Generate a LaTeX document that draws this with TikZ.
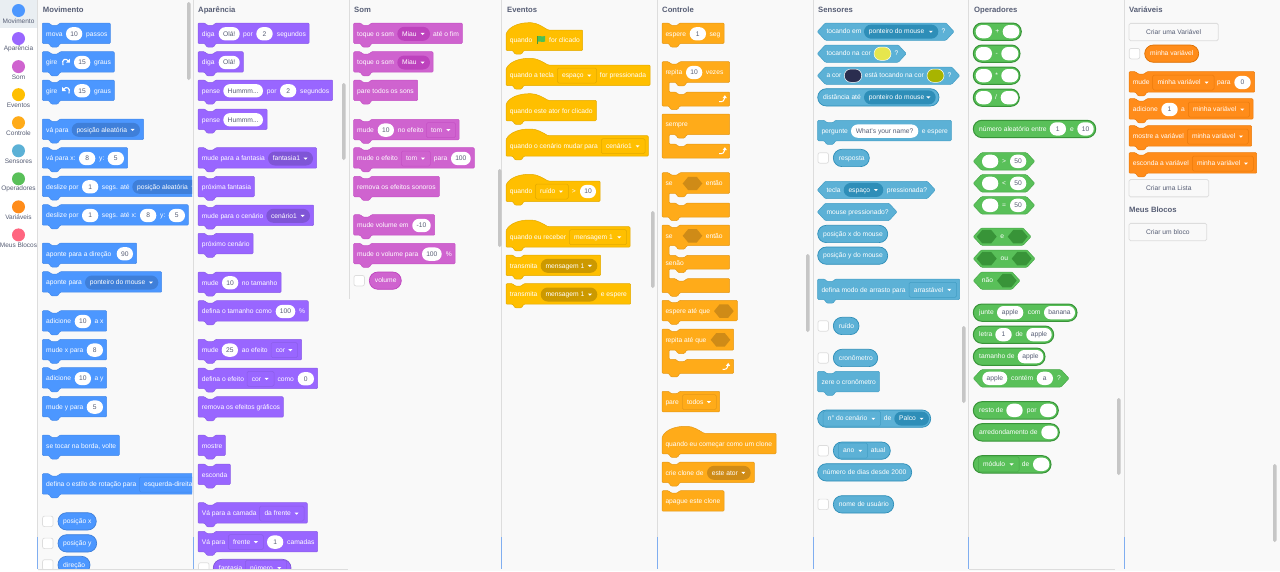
\documentclass[tikz,border=0pt]{standalone}
\usepackage{fontspec}
\setmainfont{Liberation Sans}
\usetikzlibrary{calc}

\definecolor{panelbg}{HTML}{F9F9F9}
\definecolor{selbg}{HTML}{E9EEF2}
\definecolor{rulegrey}{HTML}{DDDDDD}
\definecolor{barblue}{HTML}{80AEF0}
\definecolor{scrollgrey}{HTML}{C6C6C6}
\definecolor{textgrey}{HTML}{575E75}
\definecolor{flaggreen}{HTML}{4CBF56}
\definecolor{flagpole}{HTML}{45993D}
\definecolor{swatchyellow}{HTML}{E6E64D}
\definecolor{swatchnavy}{HTML}{2A2D4F}
\definecolor{swatcholive}{HTML}{A8B400}
\definecolor{motfill}{HTML}{4C97FF}\definecolor{motline}{HTML}{3F7FD9}
\definecolor{loofill}{HTML}{9966FF}\definecolor{looline}{HTML}{7F55D6}
\definecolor{sonfill}{HTML}{CF63CF}\definecolor{sonline}{HTML}{BD42BD}
\definecolor{evefill}{HTML}{FFBF00}\definecolor{eveline}{HTML}{CC9900}
\definecolor{ctlfill}{HTML}{FFAB19}\definecolor{ctlline}{HTML}{CF8B17}
\definecolor{senfill}{HTML}{5CB1D6}\definecolor{senline}{HTML}{2E8EB8}
\definecolor{opefill}{HTML}{59C059}\definecolor{opeline}{HTML}{389438}
\definecolor{varfill}{HTML}{FF8C1A}\definecolor{varline}{HTML}{DB6E00}
\definecolor{mybfill}{HTML}{FF6680}

\newcommand{\blkfont}{\fontsize{6.7}{8}\selectfont}
\newcommand{\usecat}[1]{\colorlet{catfill}{#1fill}\colorlet{catline}{#1line}\colorlet{catedge}{#1line!55!#1fill}}
\newcounter{lbl}

\tikzset{
  blockbody/.style={fill=catfill,draw=catedge,line width=.5pt,rounded corners=1pt},
  repline/.style={line width=.7pt},
  blktext/.style={anchor=base west,inner sep=0pt,text=white,font=\blkfont},
  blkmid/.style={anchor=base,inner sep=0pt,text=white,font=\blkfont},
  pillbox/.style={fill=white,rounded corners=6.6pt,inner sep=0pt,minimum height=13.3pt,text=textgrey,font=\blkfont,text height=6pt,text depth=1.4pt},
  ddbox/.style={fill=catline,rounded corners=7pt,inner sep=0pt,minimum height=14pt},
  menubox/.style={fill=catfill,draw=catedge,line width=.5pt,rounded corners=1.5pt,inner sep=0pt,minimum height=15pt},
  checkbox/.style={fill=white,draw=rulegrey,line width=.7pt,rounded corners=2pt,inner sep=0pt,minimum size=10.5pt},
  catdot/.style={circle,inner sep=0pt,minimum size=13pt},
  catlabel/.style={inner sep=0pt,text=textgrey,font=\fontsize{6.5}{8}\selectfont},
  cattitle/.style={anchor=base west,inner sep=0pt,text=textgrey,font=\fontsize{7.7}{9}\selectfont\bfseries},
  btnbox/.style={fill=panelbg,draw=rulegrey,line width=.8pt,rounded corners=1.5pt,inner sep=0pt,minimum height=17.3pt,text=textgrey,font=\blkfont},
  scrollbar/.style={fill=scrollgrey,rounded corners=1.7pt},
}

% block outlines, pieces of a path
\newcommand{\notchtop}[2]{(#1,#2) -- (#1+6.7,#2) -- (#1+9,#2+2.3) -- (#1+15.5,#2+2.3) -- (#1+17.7,#2)}
\newcommand{\tabbot}[2]{-- (#1+17.7,#2) -- (#1+15.5,#2+3.6) -- (#1+9,#2+3.6) -- (#1+6.7,#2) -- (#1,#2)}
\newcommand{\armpath}[4]{-- (#4,#2) -- (#1+24.7,#2) -- (#1+22.5,#2+3.5) -- (#1+16,#2+3.5) -- (#1+13.7,#2) -- (#1+7,#2) -- (#1+7,#3) -- (#1+13.7,#3) -- (#1+16,#3+2.3) -- (#1+22.5,#3+2.3) -- (#1+24.7,#3) -- (#4,#3)}

% x, top, right
\newcommand{\stackblk}[3]{\pgfmathsetmacro{\cy}{#2+10.8}
  \draw[blockbody] \notchtop{#1}{#2} -- (#3,#2) -- (#3,#2+20.5) \tabbot{#1}{#2+20.5} -- cycle;}
\newcommand{\capblk}[3]{\pgfmathsetmacro{\cy}{#2+10.8}
  \draw[blockbody] \notchtop{#1}{#2} -- (#3,#2) -- (#3,#2+20.5) -- (#1,#2+20.5) -- cycle;}
% x, apex, body top, right
\newcommand{\hatblk}[4]{\pgfmathsetmacro{\cy}{#3+10.5}
  \draw[blockbody] (#1,#3+4) .. controls (#1+4,#2+3) and (#1+14,#2) .. (#1+24,#2) .. controls (#1+31,#2) and (#1+37,#3-3) .. (#1+42,#3) -- (#4,#3) -- (#4,#3+20.5) \tabbot{#1}{#3+20.5} -- cycle;}
% x, top, head bottom, foot top, bottom, right
\newcommand{\armblk}[6]{\pgfmathsetmacro{\cy}{#2+10.8}
  \draw[blockbody] \notchtop{#1}{#2} -- (#6,#2) \armpath{#1}{#3}{#4}{#6} -- (#6,#5) \tabbot{#1}{#5} -- cycle;}
\newcommand{\foreverblk}[6]{\pgfmathsetmacro{\cy}{#2+10.3}
  \draw[blockbody] (#1,#2) -- (#6,#2) \armpath{#1}{#3}{#4}{#6} -- (#6,#5) -- (#1,#5) -- cycle;}
% x, top, head bottom, mid top, mid bottom, foot top, bottom, right
\newcommand{\elseblk}[8]{\pgfmathsetmacro{\cy}{#2+10.8}
  \draw[blockbody] \notchtop{#1}{#2} -- (#8,#2) \armpath{#1}{#3}{#4}{#8} \armpath{#1}{#5}{#6}{#8} -- (#8,#7) \tabbot{#1}{#7} -- cycle;}
% left, top, right
\newcommand{\repblk}[3]{\pgfmathsetmacro{\cy}{#2+8.65}
  \draw[fill=catfill,draw=catline,repline,rounded corners=8.6pt] (#1,#2) rectangle (#3,#2+17.3);}
\newcommand{\boolblk}[3]{\pgfmathsetmacro{\cy}{#2+8.65}
  \draw[blockbody] (#1,\cy) -- (#1+8,#2) -- (#3-8,#2) -- (#3,\cy) -- (#3-8,#2+17.3) -- (#1+8,#2+17.3) -- cycle;}

% contents of a block, on the line \cy
\newcommand{\blktx}[2]{\stepcounter{lbl}\node[blktext] (lbl\thelbl) at (#1,\cy+2.3) {#2};}
\newcommand{\blkct}[2]{\stepcounter{lbl}\node[blkmid] (lbl\thelbl) at (#1,\cy+2.3) {#2};}
\newcommand{\pillv}[3]{\stepcounter{lbl}\pgfmathsetmacro{\bw}{#2-#1}
  \node[pillbox,minimum width=\bw pt] (lbl\thelbl) at ({(#1+#2)/2},\cy) {#3};}
\newcommand{\swatch}[3]{\stepcounter{lbl}\pgfmathsetmacro{\bw}{#2-#1}
  \node[pillbox,minimum width=\bw pt,fill=#3,draw=white,line width=.5pt] (lbl\thelbl) at ({(#1+#2)/2},\cy) {};}
\newcommand{\arrowd}[1]{\fill[white] (#1-2,\cy-.9) -- (#1+2,\cy-.9) -- (#1,\cy+1.2) -- cycle;}
\newcommand{\ddn}[3]{\stepcounter{lbl}\pgfmathsetmacro{\bw}{#2-#1}\pgfmathsetmacro{\lx}{#1+4.6}\pgfmathsetmacro{\ax}{#2-7.4}
  \node[ddbox,minimum width=\bw pt] (lbl\thelbl) at ({(#1+#2)/2},\cy) {};
  \blktx{\lx}{#3}\arrowd{\ax}}
\newcommand{\menun}[3]{\stepcounter{lbl}\pgfmathsetmacro{\bw}{#2-#1}\pgfmathsetmacro{\lx}{#1+4.6}\pgfmathsetmacro{\ax}{#2-7.4}
  \node[menubox,minimum width=\bw pt] (lbl\thelbl) at ({(#1+#2)/2},\cy) {};
  \blktx{\lx}{#3}\arrowd{\ax}}
\newcommand{\hexslot}[2]{\fill[catline] (#1,\cy) -- (#1+5.5,\cy-6.7) -- (#2-5.5,\cy-6.7) -- (#2,\cy) -- (#2-5.5,\cy+6.7) -- (#1+5.5,\cy+6.7) -- cycle;}
\newcommand{\chkbox}[1]{\stepcounter{lbl}\node[checkbox] (lbl\thelbl) at (#1+5.5,\cy) {};}
\newcommand{\turnicon}[2]{\draw[white,line width=1.1pt] (#1-3*#2,\cy+2.6) .. controls (#1-4.8*#2,\cy-3.6) and (#1,\cy-4.6) .. (#1+2.4*#2,\cy-1.6);
  \fill[white] (#1+3.8*#2,\cy-3.8) -- (#1+3.9*#2,\cy+.2) -- (#1,\cy+.2) -- cycle;}
\newcommand{\loopicon}[2]{\draw[white,line width=1pt] (#1-3.5,#2+2.6) .. controls (#1,#2+3) and (#1+2,#2+1.5) .. (#1+2,#2-1);
  \fill[white] (#1-.2,#2-.8) -- (#1+4.2,#2-.8) -- (#1+2.2,#2-3.8) -- cycle;}

\begin{document}
\begin{tikzpicture}[x=1pt,y=-1pt]
\useasboundingbox (0,0) rectangle (1280,571);
\fill[panelbg] (0,0) rectangle (1280,571);
\fill[white] (0,0) rectangle (37.5,571);
\fill[selbg] (0,0) rectangle (37.5,28);

% category column
\foreach \ccol/\clab [count=\ci] in {motfill/Movimento,loofill/Aparência,sonfill/Som,evefill/Eventos,ctlfill/Controle,senfill/Sensores,opefill/Operadores,varfill/Variáveis,mybfill/Meus Blocos}{
  \pgfmathsetmacro{\dy}{10.5+28.05*(\ci-1)}
  \node[catdot,fill=\ccol] (dot\ci) at (18.5,\dy) {};
  \node[catlabel] (cat\ci) at (18.5,\dy+10.3) {\clab};
}

% titles
\node[cattitle] (titleMov) at (42.7,12.8) {Movimento};
\node[cattitle] (titleApa) at (198,12.8) {Aparência};
\node[cattitle] (titleSom) at (354,12.8) {Som};
\node[cattitle] (titleEve) at (507,12.8) {Eventos};
\node[cattitle] (titleCtl) at (662,12.8) {Controle};
\node[cattitle] (titleSen) at (818,12.8) {Sensores};
\node[cattitle] (titleOpe) at (974,12.8) {Operadores};
\node[cattitle] (titleVar) at (1129,12.8) {Variáveis};
\node[cattitle] (titleMyb) at (1129,212.8) {Meus Blocos};

% Movimento
\begin{scope}
\clip (38,0) rectangle (192,569);
\usecat{mot}
\stackblk{42.3}{23}{110.3}\blktx{46}{mova}\pillv{66}{82.3}{10}\blktx{86}{passos}
\stackblk{42.3}{51.7}{114.3}\blktx{46}{gire}\turnicon{66}{1}\pillv{74}{90.3}{15}\blktx{94}{graus}
\stackblk{42.3}{80}{114.3}\blktx{46}{gire}\turnicon{66}{-1}\pillv{74}{90.3}{15}\blktx{94}{graus}
\stackblk{42.3}{119}{143.7}\blktx{46}{vá para}\ddn{71.7}{140}{posição aleatória}
\stackblk{42.3}{147.7}{127.7}\blktx{46}{vá para x:}\pillv{79}{95.3}{8}\blktx{99}{y:}\pillv{107.7}{124}{5}
\stackblk{42.3}{176}{194}\blktx{46}{deslize por}\pillv{82}{98.3}{1}\blktx{101.7}{segs. até}\ddn{132.3}{200.7}{posição aleatória}
\stackblk{42.3}{204.7}{188.3}\blktx{46}{deslize por}\pillv{82}{98.3}{1}\blktx{101.7}{segs. até x:}\pillv{140}{156.3}{8}\blktx{160}{y:}\pillv{168.7}{185}{5}
\stackblk{42.3}{243}{136.7}\blktx{46}{aponte  para a direção}\pillv{116.7}{133}{90}
\stackblk{42.3}{271.7}{161.7}\blktx{46}{aponte para}\ddn{85}{158.3}{ponteiro do mouse}
\stackblk{42.3}{310.7}{106.7}\blktx{46}{adicione}\pillv{74.7}{91}{10}\blktx{94.3}{a x}
\stackblk{42.3}{339.3}{106.7}\blktx{46}{mude x para}\pillv{86.7}{103}{8}
\stackblk{42.3}{367.7}{106.7}\blktx{46}{adicione}\pillv{74.7}{91}{10}\blktx{94.3}{a y}
\stackblk{42.3}{396.3}{106.7}\blktx{46}{mude y para}\pillv{86.7}{103}{5}
\stackblk{42.3}{435}{119.3}\blktx{46}{se tocar na borda, volte}
\stackblk{42.3}{473.7}{194}\blktx{46}{defina o estilo de rotação para}\menun{139.3}{212}{esquerda-direita}
\repblk{58}{512.7}{96.3}\chkbox{42.3}\blktx{63}{posição x}
\repblk{58}{534.7}{96.7}\chkbox{42.3}\blktx{63}{posição y}
\repblk{58}{556.3}{90}\chkbox{42.3}\blktx{63}{direção}
\end{scope}

% Aparencia
\begin{scope}
\clip (194,0) rectangle (348,569);
\usecat{loo}
\stackblk{198}{23}{309}\blktx{201.7}{diga}\pillv{218.7}{239.7}{Olá!}\blktx{243}{por}\pillv{256.3}{272.7}{2}\blktx{276.7}{segundos}
\stackblk{198}{51.7}{243.3}\blktx{201.7}{diga}\pillv{218.7}{239.7}{Olá!}
\stackblk{198}{80}{332.7}\blktx{201.7}{pense}\pillv{223.3}{263}{Hummm...}\blktx{266.7}{por}\pillv{280}{296.3}{2}\blktx{300}{segundos}
\stackblk{198}{109}{267}\blktx{201.7}{pense}\pillv{223.3}{263}{Hummm...}
\stackblk{198}{147.7}{316.7}\blktx{201.7}{mude para a fantasia}\ddn{268}{313}{fantasia1}
\stackblk{198}{176.3}{254.3}\blktx{201.7}{próxima fantasia}
\stackblk{198}{205}{313.7}\blktx{201.7}{mude para o cenário}\ddn{266.3}{310}{cenário1}
\stackblk{198}{233.3}{253}\blktx{201.7}{próximo cenário}
\stackblk{198}{272}{281}\blktx{201.7}{mude}\pillv{222}{238.3}{10}\blktx{241.7}{no tamanho}
\stackblk{198}{300.7}{308.3}\blktx{201.7}{defina o tamanho como}\pillv{275.7}{295.3}{100}\blktx{299}{\%}
\stackblk{198}{339.3}{301.7}\blktx{201.7}{mude}\pillv{221.7}{238}{25}\blktx{241.7}{ao efeito}\menun{271}{297.7}{cor}
\stackblk{198}{368}{317.7}\blktx{201.7}{defina o efeito}\menun{247}{274}{cor}\blktx{277.3}{como}\pillv{297.7}{314}{0}
\stackblk{198}{396.7}{283.3}\blktx{201.7}{remova os efeitos gráficos}
\stackblk{198}{435}{225.3}\blktx{201.7}{mostre}
\stackblk{198}{464}{230.3}\blktx{201.7}{esconda}
\stackblk{198}{502.7}{307.3}\blktx{201.7}{Vá para a camada}\menun{259.7}{304}{da frente}
\stackblk{198}{531.3}{317.7}\blktx{201.7}{Vá para}\menun{228.3}{263.3}{frente}\pillv{267}{283.3}{1}\blktx{287}{camadas}
\repblk{213.3}{559.3}{291}\chkbox{198.3}\blktx{218.7}{fantasia}\menun{245.3}{286.7}{número}
\end{scope}

% Som
\usecat{son}
\stackblk{353.7}{23}{462.3}\blktx{357}{toque o som}\ddn{397.3}{430}{Miau}\blktx{433}{até o fim}
\stackblk{353.7}{51.7}{433}\blktx{357}{toque o som}\ddn{397.3}{430}{Miau}
\stackblk{353.7}{80}{417.7}\blktx{357}{pare todos os sons}
\stackblk{353.7}{119.3}{459}\blktx{357}{mude}\pillv{377.7}{394}{10}\blktx{397.7}{no efeito}\menun{426.3}{455.7}{tom}
\stackblk{353.7}{147.7}{474.3}\blktx{357}{mude o efeito}\menun{401.3}{430.3}{tom}\blktx{433.7}{para}\pillv{451}{470.7}{100}
\stackblk{353.7}{176.3}{439.3}\blktx{357}{remova os efeitos sonoros}
\stackblk{353.7}{214.7}{434.7}\blktx{357}{mude volume em}\pillv{412.3}{430.7}{-10}
\stackblk{353.7}{243.3}{455}\blktx{357}{mude o volume para}\pillv{422}{441.7}{100}\blktx{445.7}{\%}
\repblk{369.3}{272}{401.3}\chkbox{353.7}\blktx{374.7}{volume}

% Eventos
\usecat{eve}
\hatblk{506}{22.7}{30}{582.7}\blktx{509.7}{quando}\blktx{549}{for clicado}
\fill[flaggreen] (537.5,36) .. controls (540,35) and (541,37.5) .. (545,36) -- (545,41.5) .. controls (541,43) and (540,40.5) .. (537.5,41.5) -- cycle;
\draw[flagpole,line width=.7pt] (537.3,36) -- (537.3,44);
\hatblk{506}{58.3}{65}{650}\blktx{509.7}{quando a tecla}\menun{557.3}{596.7}{espaço}\blktx{599.7}{for pressionada}
\hatblk{506}{93.7}{100.3}{596.3}\blktx{509.7}{quando este ator for clicado}
\hatblk{506}{129}{135.7}{648.3}\blktx{509.7}{quando o cenário mudar para}\menun{601.3}{645}{cenário1}
\hatblk{506}{174.3}{181}{600}\blktx{509.7}{quando}\menun{535.3}{568.3}{ruído}\blktx{571.7}{>}\pillv{580}{596}{10}
\hatblk{506}{220}{226.7}{630}\blktx{509.7}{quando eu receber}\menun{569.3}{626.7}{mensagem 1}
\stackblk{506}{255}{600.7}\blktx{509.7}{transmita}\ddn{540.7}{597.3}{mensagem 1}
\stackblk{506}{283.7}{630.7}\blktx{509.7}{transmita}\ddn{540.7}{597.3}{mensagem 1}\blktx{600.7}{e espere}

% Controle
\usecat{ctl}
\stackblk{662}{23}{724}\blktx{665.3}{espere}\pillv{689.7}{706}{1}\blktx{709.3}{seg}
\armblk{662}{61.7}{82.3}{92}{106}{729.7}\blktx{665.3}{repita}\pillv{686}{702.3}{10}\blktx{705.7}{vezes}\loopicon{722.7}{99}
\foreverblk{662}{114}{134.7}{144}{158}{729.7}\blktx{665.3}{sempre}\loopicon{722.7}{151}
\armblk{662}{172.7}{193.3}{203}{217}{729.7}\blktx{665.3}{se}\hexslot{682.7}{702.3}\blktx{705.7}{então}
\elseblk{662}{225}{245.7}{255.3}{269}{278.7}{292.7}{729.7}\blktx{665.3}{se}\hexslot{682.7}{702.3}\blktx{705.7}{então}
\pgfmathsetmacro{\cy}{262.7}\blktx{665.3}{senão}
\stackblk{662}{300.3}{737.3}\blktx{665.3}{espere até que}\hexslot{714}{733.7}
\armblk{662}{329}{350}{359.3}{373.3}{733.7}\blktx{665.3}{repita até que}\hexslot{710.7}{730.3}\loopicon{726}{366.7}
\capblk{662}{391.3}{719.7}\blktx{665.3}{pare}\menun{682.3}{716.3}{todos}
\hatblk{662}{426.3}{433.3}{776}\blktx{665.3}{quando eu começar como um clone}
\stackblk{662}{462}{754.3}\blktx{665.3}{crie clone de}\ddn{707}{750.7}{este ator}
\capblk{662}{490.7}{724}\blktx{665.3}{apague este clone}

% Sensores
\usecat{sen}
\boolblk{817.3}{23}{954}\blktx{826.3}{tocando em}\ddn{864}{938.3}{ponteiro do mouse}\blktx{941.3}{?}
\boolblk{817.3}{45}{906.3}\blktx{826.3}{tocando na cor}\swatch{874}{891}{swatchyellow}\blktx{894.3}{?}
\boolblk{817.3}{67}{959.7}\blktx{826.3}{a cor}\swatch{844.3}{861.7}{swatchnavy}\blktx{864.7}{está tocando na cor}\swatch{927}{944}{swatcholive}\blktx{947.3}{?}
\repblk{817.7}{88.7}{939}\blktx{823}{distância até}\ddn{864}{935.7}{ponteiro do mouse}
\stackblk{817.7}{120.3}{951.3}\blktx{821.3}{pergunte}\pillv{851}{918.3}{What's your name?}\blktx{921.7}{e espere}
\repblk{833.3}{149.3}{869.3}\chkbox{817.7}\blktx{838.7}{resposta}
\boolblk{817.3}{181.3}{935.3}\blktx{826.3}{tecla}\ddn{843.7}{883.3}{espaço}\blktx{886.7}{pressionada?}
\boolblk{817.3}{203.3}{897}\blktx{826.3}{mouse pressionado?}
\repblk{817.7}{225.3}{887.7}\blktx{823}{posição x do mouse}
\repblk{817.7}{247}{887.7}\blktx{823}{posição y do mouse}
\stackblk{817.7}{279}{959.7}\blktx{821.3}{defina modo de arrasto para}\menun{909}{956.7}{arrastável}
\repblk{833.3}{317.3}{859}\chkbox{817.7}\blktx{838.7}{ruído}
\repblk{833.3}{349.3}{877.7}\chkbox{817.7}\blktx{838.7}{cronômetro}
\stackblk{817.7}{371.3}{879.3}\blktx{821.3}{zere o cronômetro}
\repblk{817.7}{410}{930.7}\menun{823}{880.7}{n° do cenário}\blktx{883.7}{de}\ddn{894.3}{929}{Palco}
\repblk{833.3}{442}{890.3}\chkbox{817.7}\menun{838.3}{867.7}{ano}\blktx{870.7}{atual}
\repblk{817.7}{463.7}{911.7}\blktx{823}{número de dias desde 2000}
\repblk{833.3}{495.7}{893.7}\chkbox{817.7}\blktx{838.7}{nome de usuário}

% Operadores
\begin{scope}
\usecat{ope}
\tikzset{repline/.style={line width=1pt}}
\repblk{973.3}{23}{1021.3}\pillv{975.7}{992}{}\blkct{997.3}{+}\pillv{1002.7}{1019.3}{}
\repblk{973.3}{45}{1020}\pillv{975.7}{992}{}\blkct{996.7}{-}\pillv{1001.3}{1018.3}{}
\repblk{973.3}{67}{1020}\pillv{975.7}{992}{}\blkct{996.7}{*}\pillv{1001.3}{1018.3}{}
\repblk{973.3}{89}{1019.3}\pillv{975.7}{992}{}\blkct{996}{/}\pillv{1000.7}{1018}{}
\repblk{973.3}{120.3}{1095.7}\blktx{979}{número aleatório entre}\pillv{1049.7}{1066}{1}\blktx{1070}{e}\pillv{1077.3}{1093.7}{10}
\boolblk{973.3}{152.7}{1034.7}\pillv{982}{998.3}{}\blkct{1004}{>}\pillv{1010}{1026.3}{50}
\boolblk{973.3}{174.7}{1034.7}\pillv{982}{998.3}{}\blkct{1004}{<}\pillv{1010}{1026.3}{50}
\boolblk{973.3}{196.7}{1034.7}\pillv{982}{998.3}{}\blkct{1004}{=}\pillv{1010}{1026.3}{50}
\boolblk{973.3}{228}{1031}\hexslot{976.7}{996.7}\blkct{1002.3}{e}\hexslot{1007.7}{1027.7}
\boolblk{973.3}{250}{1035}\hexslot{976.7}{996.7}\blkct{1004.3}{ou}\hexslot{1011.7}{1031.7}
\boolblk{973.3}{272}{1020}\blktx{981.7}{não}\hexslot{997}{1016.7}
\repblk{973.3}{304}{1077}\blktx{979}{junte}\pillv{997}{1023.3}{apple}\blktx{1027.7}{com}\pillv{1044}{1075}{banana}
\repblk{973.3}{326}{1053.7}\blktx{979}{letra}\pillv{995.3}{1011.7}{1}\blktx{1015.3}{de}\pillv{1026.3}{1051.7}{apple}
\repblk{973.3}{348}{1045}\blktx{979}{tamanho de}\pillv{1017.7}{1043.3}{apple}
\boolblk{973.3}{369.7}{1069}\pillv{982.3}{1007.3}{apple}\blktx{1011}{contém}\pillv{1036.7}{1053}{a}\blktx{1057}{?}
\repblk{973.3}{401.7}{1058.3}\blktx{979}{resto de}\pillv{1006.3}{1022.7}{}\blktx{1026.7}{por}\pillv{1040}{1056.3}{}
\repblk{973.3}{423.7}{1059.3}\blktx{979}{arredondamento de}\pillv{1041.3}{1057.7}{}
\repblk{973.3}{455.7}{1051}\menun{978.3}{1019}{módulo}\blktx{1021.7}{de}\pillv{1033}{1049.3}{}
\end{scope}

% Variaveis
\usecat{var}
\node[btnbox,minimum width=89.3pt] (btnVar) at (1173.65,32) {Criar uma Variável};
\repblk{1144.7}{45}{1198.7}\chkbox{1129}\blktx{1150}{minha variável}
\stackblk{1129}{71.7}{1254.7}\blktx{1132.7}{mude}\menun{1152.7}{1214}{minha variável}\blktx{1217}{para}\pillv{1234.3}{1250.7}{0}
\stackblk{1129}{98.7}{1253}\blktx{1132.7}{adicione}\pillv{1161.3}{1177.7}{1}\blktx{1181}{a}\menun{1188.3}{1249.7}{minha variável}
\stackblk{1129}{125.7}{1251.7}\blktx{1132.7}{mostre a variável}\menun{1187.3}{1248.3}{minha variável}
\stackblk{1129}{152.7}{1256.7}\blktx{1132.7}{esconda a variável}\menun{1192.3}{1253.3}{minha variável}
\node[btnbox,minimum width=79.7pt] (btnLista) at (1168.85,188.2) {Criar uma Lista};
\node[btnbox,minimum width=77.7pt] (btnBloco) at (1167.85,232) {Criar um bloco};

% rules between the columns
\foreach \rx in {37.5,193.5,501.5,657.5,813.5,968.5,1124.5}{
  \draw[rulegrey,line width=.9pt] (\rx,0) -- (\rx,569);
  \draw[barblue,line width=.9pt] (\rx,537) -- (\rx,569);
}
\draw[rulegrey,line width=.7pt] (349,0) -- (349,299);
\draw[rulegrey,line width=.6pt] (37.5,569.5) -- (348,569.5);
\draw[rulegrey,line width=.6pt] (969,569.5) -- (1115,569.5);

% scroll bars
\fill[scrollbar] (187,2) rectangle (190.5,80);
\fill[scrollbar] (342,83) rectangle (345.5,160);
\fill[scrollbar] (498,169) rectangle (501.5,247);
\fill[scrollbar] (651,211) rectangle (654.5,288);
\fill[scrollbar] (806,254) rectangle (809.5,332);
\fill[scrollbar] (962,326) rectangle (965.5,403);
\fill[scrollbar] (1117,398) rectangle (1120.5,475);
\fill[scrollbar] (1273,464) rectangle (1276.5,542);
\end{tikzpicture}
\end{document}
